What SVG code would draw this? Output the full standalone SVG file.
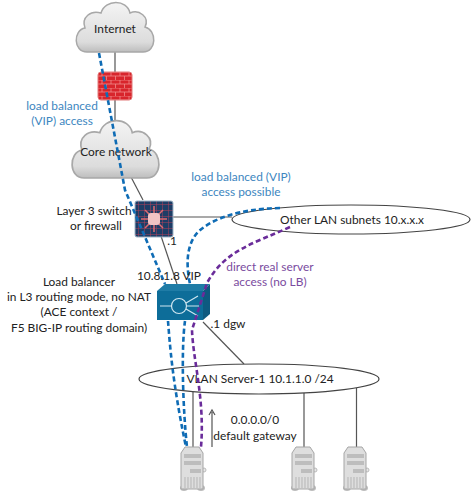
<svg xmlns="http://www.w3.org/2000/svg" width="474" height="494" viewBox="0 0 474 494">
<style>
text{font-family:Lato,"Open Sans","Liberation Sans",sans-serif;font-size:11.900px;fill:#222;text-anchor:middle}
.b{fill:#3d86c0}.p{fill:#7a4ba0}
.l{fill:none;stroke:#555;stroke-width:1.2}
.bd{fill:none;stroke:#0f6cb5;stroke-width:2.6;stroke-dasharray:5 3}
.pd{fill:none;stroke:#6a2c9a;stroke-width:2.6;stroke-dasharray:5 3}
.e{fill:#fff;stroke:#444;stroke-width:1.2}
.cloud{fill:url(#cg);stroke:#a8a8a8;stroke-width:1.5;vector-effect:non-scaling-stroke}
.srv{fill:#dedede;stroke:#a5a5a5}
.slot{fill:#bdbdbd}
</style>
<defs>
<linearGradient id="cg" x1="0" y1="0" x2="0" y2="1"><stop offset="0" stop-color="#f4f4f4"/><stop offset="0.800" stop-color="#dcdcdc"/><stop offset="1" stop-color="#bdbdbd"/></linearGradient>
<pattern id="brick" width="9" height="8" patternUnits="userSpaceOnUse"><rect width="9" height="8" fill="#d8252c"/><path d="M0 0H9M0 4H9M3 0V4M7.500 4V8" stroke="#f08a8a" stroke-width="0.8"/></pattern>
<pattern id="grid" width="6" height="6" patternUnits="userSpaceOnUse"><rect width="6" height="6" fill="#1d3d66"/><path d="M0 0H6M0 0V6" stroke="#b0405a" stroke-width="1"/></pattern>
<g id="server">
<ellipse cx="5" cy="41" rx="4" ry="3" fill="#bdbdbd"/><ellipse cx="22" cy="41" rx="4" ry="3" fill="#bdbdbd"/>
<circle cx="25" cy="23" r="2" fill="#e8e8e8" stroke="#bbb"/>
<path class="srv" d="M2 6L6 0H20L24 6V42H2Z"/>
<rect class="slot" x="5" y="7" width="17" height="4"/><rect class="slot" x="5" y="14" width="17" height="4"/><rect class="slot" x="11" y="22" width="11" height="4"/>
<path d="M6 30V41M9 30V41M12 30V41M15 30V41M18 30V41M21 30V41" stroke="#b5b5b5"/>
</g>
<path id="cl" d="M-28 25C-42 25-42 3-30 1C-34-10-24-17-14-14C-10-28 12-28 15-14C24-18 35-10 30 0C42 3 42 25 28 25Z"/>
</defs>

<g id="connectors">
<path class="l" d="M115 52V72M115 100V122"/>
<path class="l" d="M131 177L143 200"/>
<path class="l" d="M172 217H232"/>
<path class="l" d="M161 236L177 284"/>
<path class="l" d="M203 322L244 364"/>
<path class="l" d="M193 392V447M304 393V447M356.500 388V447"/>
<path class="l" d="M212 447V412M209 415L212 410L215 415"/>
</g>

<g id="ellipse-vlan"><ellipse class="e" cx="259" cy="379" rx="120" ry="15"/><text x="260" y="383">VLAN Server-1 10.1.1.0 /24</text></g>
<g id="ellipse-lan"><ellipse class="e" cx="351" cy="219.500" rx="119" ry="14.500"/><text x="352" y="224">Other LAN subnets 10.x.x.x</text></g>

<g id="cloud-internet"><use href="#cl" class="cloud" transform="translate(115 27)"/><text x="115" y="33">Internet</text></g>
<g id="firewall"><rect x="98" y="72" width="34" height="28" rx="3" fill="url(#brick)" stroke="#e27a7a"/></g>
<g id="cloud-core"><use href="#cl" class="cloud" transform="translate(115.500 149) scale(1.120 1.160)"/><text x="116" y="156">Core network</text></g>

<g id="switch">
<rect x="135" y="201" width="38" height="36" rx="2" fill="url(#grid)" stroke="#9fb6c8"/>
<path d="M154 206V232M141 219H167M145 210L163 228M163 210L145 228" stroke="#e06a70" stroke-width="1.500"/>
<rect x="148" y="213" width="12" height="12" rx="3" fill="#f2c4c4"/>
</g>

<g id="load-balancer">
<path d="M157 291L165 284H210L203 291Z" fill="#1f7ca6"/>
<path d="M203 291L210 284V314L203 320Z" fill="#0e5a80"/>
<rect x="157" y="291" width="46" height="29" fill="#0d6d99"/>
<circle cx="179" cy="306" r="7.500" fill="none" stroke="#cfe6f0" stroke-width="1.200"/>
<path d="M160 306H171M186 303L198 296M187 306H199M186 309L198 316" stroke="#cfe6f0" stroke-width="1.200"/>
</g>

<g id="server-1"><use href="#server" x="179" y="447"/></g>
<g id="server-2"><use href="#server" x="290" y="447"/></g>
<g id="server-3"><use href="#server" x="342" y="447"/></g>

<g id="paths">
<path class="bd" d="M99 53L125 190L165 284M168 321C170 345 172 380 186 447"/>
<path class="bd" d="M280 208C240 209 213 218 198 232C186 245 186 265 190 284M185 321C181 350 183 410 187 447"/>
<path class="pd" d="M290 227C255 243 225 250 207 283L192 330C193 360 205 400 201 447"/>
</g>

<g id="labels">
<text class="b" x="62" y="110">load balanced</text>
<text class="b" x="62" y="125">(VIP) access</text>
<text x="94" y="215">Layer 3 switch</text>
<text x="96" y="230">or firewall</text>
<text x="172" y="245">.1</text>
<text class="b" x="241" y="181">load balanced (VIP)</text>
<text class="b" x="241" y="196">access possible</text>
<text x="169" y="280">10.8.1.8 VIP</text>
<text class="p" x="270" y="271">direct real server</text>
<text class="p" x="270" y="286">access (no LB)</text>
<text x="79" y="286">Load balancer</text>
<text x="79" y="301">in L3 routing mode, no NAT</text>
<text x="79" y="316">(ACE context /</text>
<text x="79" y="332">F5 BIG-IP routing domain)</text>
<text x="228" y="328">.1 dgw</text>
<text x="255" y="424">0.0.0.0/0</text>
<text x="255" y="440">default gateway</text>
</g>
</svg>
